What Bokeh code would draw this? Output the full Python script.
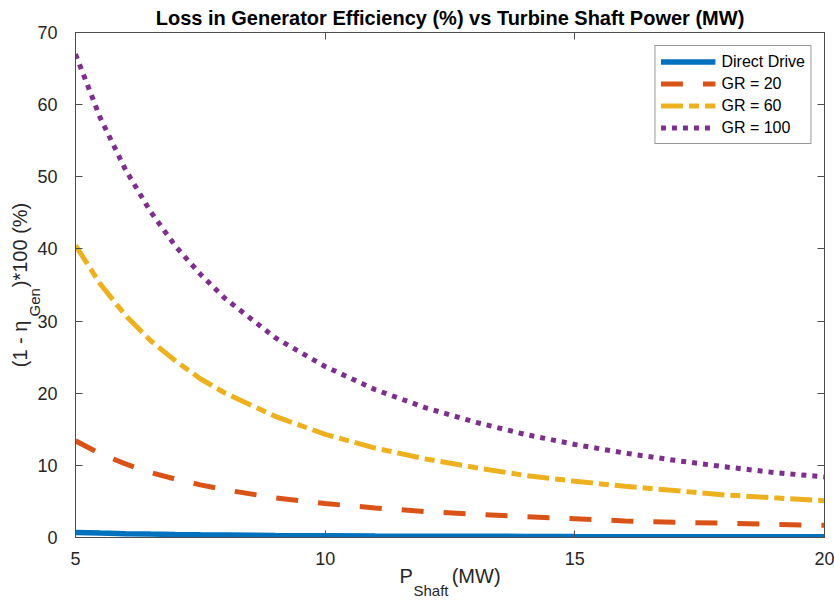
from bokeh.plotting import figure
from bokeh.models import Range1d, FixedTicker, LinearAxis, Legend, LegendItem, Title
from bokeh.embed import file_html
from bokeh.resources import INLINE

# ---- data ----
p_shaft = [5, 5.5, 6, 6.5, 7, 7.5, 8, 9, 10, 11, 12, 13, 14, 15, 16, 17, 18, 19, 20]
loss_direct = [0.70, 0.61, 0.53, 0.47, 0.42, 0.38, 0.35, 0.29, 0.25, 0.21, 0.19, 0.17,
               0.15, 0.13, 0.12, 0.11, 0.10, 0.09, 0.09]
loss_gr20 = [13.4, 11.6, 10.2, 9.0, 8.1, 7.3, 6.6, 5.5, 4.7, 4.1, 3.6, 3.2, 2.9, 2.6,
             2.3, 2.1, 2.0, 1.8, 1.7]
loss_gr60 = [40.5, 35.1, 30.8, 27.3, 24.5, 22.0, 20.0, 16.8, 14.3, 12.4, 10.9, 9.7, 8.6,
             7.8, 7.1, 6.5, 5.9, 5.5, 5.1]
loss_gr100 = [67.0, 58.1, 51.0, 45.2, 40.4, 36.5, 33.1, 27.7, 23.7, 20.5, 18.0, 16.0,
              14.3, 12.9, 11.7, 10.7, 9.8, 9.0, 8.4]
series_names = ["Direct Drive", "GR = 20", "GR = 60", "GR = 100"]
x_ticks = [5, 10, 15, 20]
y_ticks = [0, 10, 20, 30, 40, 50, 60, 70]
title_text = "Loss in Generator Efficiency (%) vs Turbine Shaft Power (MW)"

FONT = "Liberation Sans"
AX = "#262626"
AXLINE = "#4d4d4d"
NB = "\u00a0"

p = figure(width=834, height=603, output_backend="svg", toolbar_location=None,
           x_range=Range1d(5, 20), y_range=Range1d(0, 70),
           min_border_left=75, min_border_right=10, min_border_top=30,
           min_border_bottom=66)
p.title = Title(text=title_text, align="center", vertical_align="bottom", standoff=8,
                text_font=FONT, text_font_style="bold", text_font_size="20px",
                text_color="black")
p.xgrid.visible = False
p.ygrid.visible = False
p.outline_line_color = AXLINE
p.background_fill_color = "white"
p.border_fill_color = "white"

for ax, ticks in ((p.xaxis[0], x_ticks), (p.yaxis[0], y_ticks)):
    ax.ticker = FixedTicker(ticks=ticks)
    ax.major_tick_in = 7
    ax.major_tick_out = 0
    ax.minor_tick_line_color = None
    ax.axis_line_color = AXLINE
    ax.major_tick_line_color = AXLINE
    ax.major_label_text_font = FONT
    ax.major_label_text_font_size = "18px"
    ax.major_label_text_color = AX
p.xaxis[0].major_label_standoff = 14
p.yaxis[0].major_label_standoff = 18

for place, ticks in (("right", y_ticks), ("above", x_ticks)):
    ax = LinearAxis(ticker=FixedTicker(ticks=ticks), major_tick_in=7, major_tick_out=0,
                    minor_tick_line_color=None, axis_line_color=AXLINE,
                    major_tick_line_color=AXLINE, major_label_text_font_size="1px",
                    major_label_text_color=None, major_label_standoff=0)
    p.add_layout(ax, place)

r1 = p.line(p_shaft, loss_direct, line_color="#0072BD", line_width=5.5)
r2 = p.line(p_shaft, loss_gr20, line_color="#D95319", line_width=5, line_dash="22 20")
r3 = p.line(p_shaft, loss_gr60, line_color="#EDB120", line_width=5, line_dash="22 6 10 6")
r4 = p.line(p_shaft, loss_gr100, line_color="#7E2F8E", line_width=5, line_dash="5 6")

legend = Legend(items=[LegendItem(label=n, renderers=[r]) for n, r in
                       zip(series_names, [r1, r2, r3, r4])],
                location="top_right", margin=13, padding=5, spacing=1,
                glyph_width=55, glyph_height=21, label_height=21, label_standoff=6,
                label_text_font=FONT, label_text_font_size="16px",
                label_text_color="black", border_line_color="#333333",
                border_line_width=1, background_fill_color="white",
                background_fill_alpha=1.0)
p.add_layout(legend)

# x axis label: P_Shaft (MW) -- main text row, then subscript row
p.add_layout(Title(text="P" + NB * 7 + "(MW)", align="center", vertical_align="top",
                   standoff=-6, text_font=FONT, text_font_size="20px",
                   text_font_style="normal", text_color=AX), "below")
p.add_layout(Title(text="Shaft", align="left", offset=338, vertical_align="top",
                   standoff=-7, text_font=FONT, text_font_size="15px",
                   text_font_style="normal", text_color=AX), "below")

# y axis label: (1 - eta_Gen)*100 (%) -- subscript row (inner), then main text row
p.add_layout(Title(text="Gen", align="left", offset=221, vertical_align="bottom",
                   standoff=-16, text_font=FONT, text_font_size="15px",
                   text_font_style="normal", text_color=AX), "left")
p.add_layout(Title(text="(1 - \u03b7" + NB * 6 + ")*100 (%)", align="center",
                   vertical_align="bottom", standoff=1, text_font=FONT,
                   text_font_size="20px", text_font_style="normal", text_color=AX), "left")

open("out.html", "w").write(file_html(p, INLINE))
